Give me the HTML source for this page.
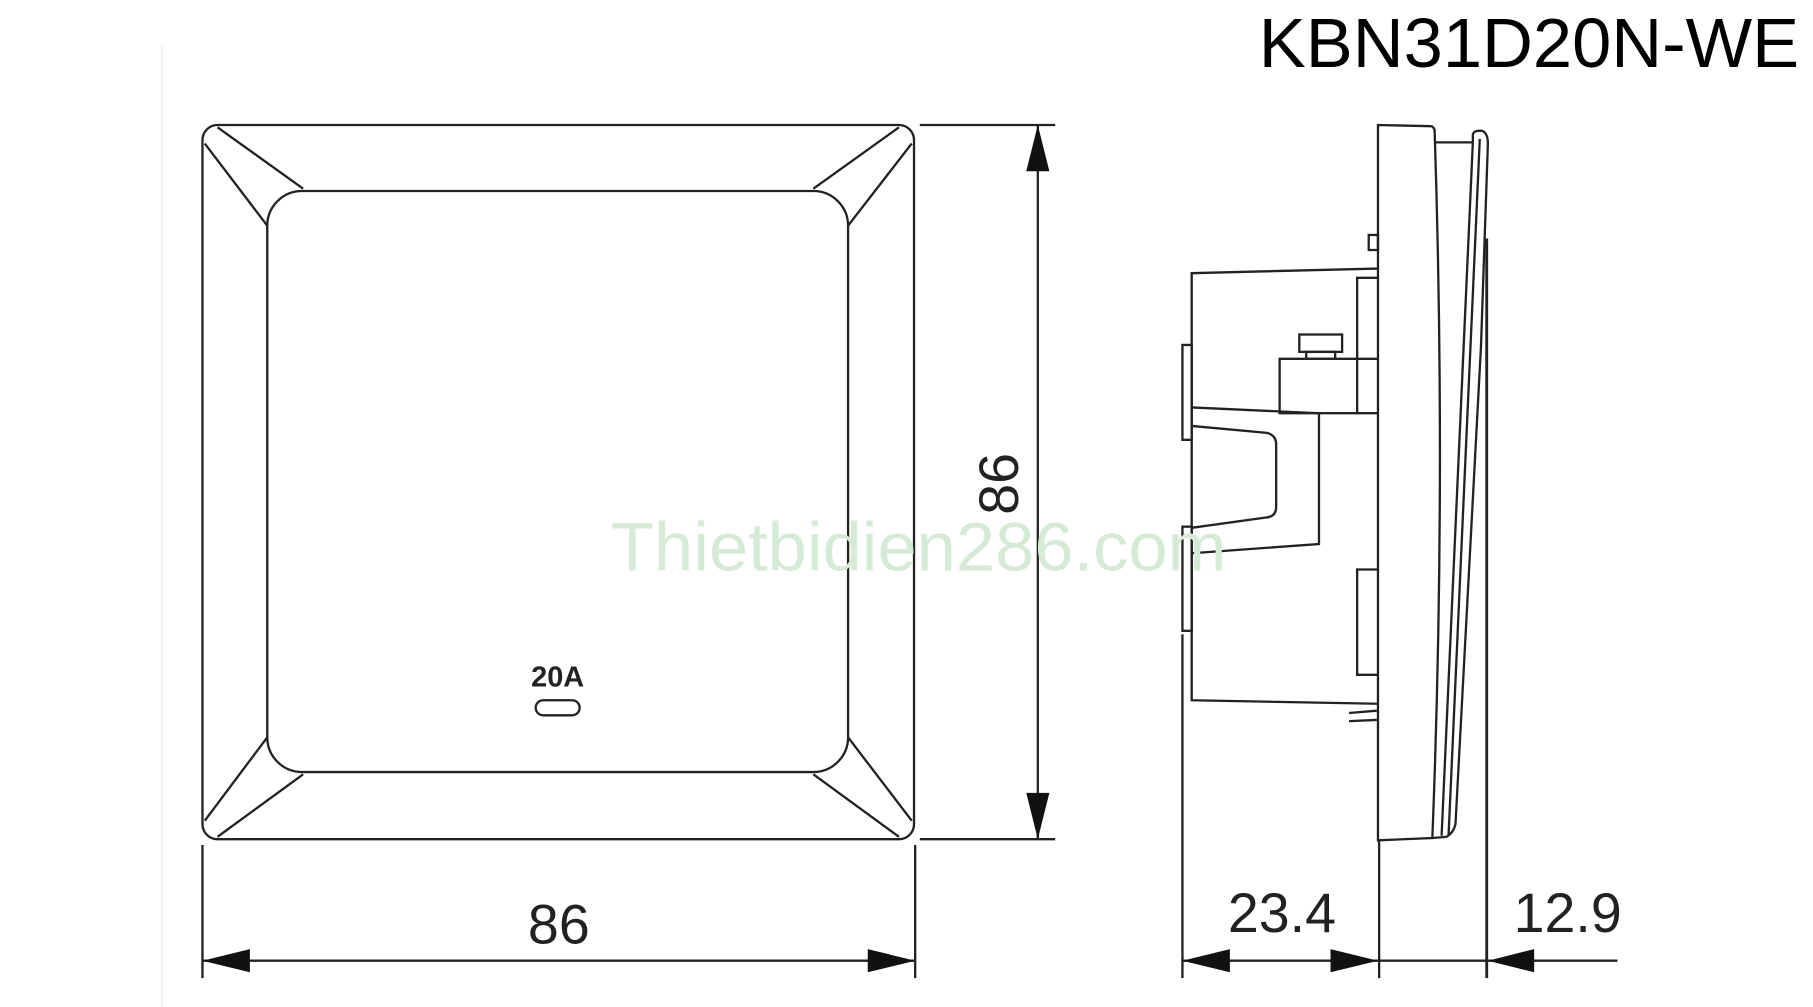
<!DOCTYPE html>
<html><head><meta charset="utf-8"><style>
html,body{margin:0;padding:0;background:#fff;}
svg{display:block;}
</style></head><body>
<svg width="1813" height="1007" viewBox="0 0 1567 870" preserveAspectRatio="none" xmlns="http://www.w3.org/2000/svg">
<rect width="1567" height="870" fill="#fff"/>
<line x1="140" y1="40" x2="140" y2="870" stroke="#f4f4f4" stroke-width="2"/>
<text x="1088" y="58" textLength="467" lengthAdjust="spacingAndGlyphs" font-family="Liberation Sans, sans-serif" font-size="60" fill="#000">KBN31D20N-WE</text>
<g fill="none" stroke="#222" stroke-width="2">
<rect x="175" y="108" width="615" height="617" rx="13"/>
<rect x="231" y="165" width="502" height="502" rx="30"/>
<line x1="188" y1="110" x2="262" y2="163"/>
<line x1="177" y1="124" x2="231" y2="195"/>
<line x1="777" y1="110" x2="703" y2="163"/>
<line x1="788" y1="124" x2="733" y2="195"/>
<line x1="188" y1="723" x2="262" y2="669"/>
<line x1="177" y1="709" x2="231" y2="637"/>
<line x1="777" y1="723" x2="703" y2="669"/>
<line x1="788" y1="709" x2="733" y2="637"/>
<rect x="463" y="605" width="38" height="13" rx="6.5"/>
<line x1="175" y1="730" x2="175" y2="845"/>
<line x1="791" y1="730" x2="791" y2="845"/>
<line x1="175" y1="830" x2="791" y2="830"/>
<line x1="795" y1="108" x2="912" y2="108"/>
<line x1="795" y1="725" x2="912" y2="725"/>
<line x1="897" y1="108" x2="897" y2="725"/>
<path d="M1191 727 L1191 108 L1237 109 Q1240 110 1240 114 Q1250 420 1238 724 L1191 726"/>
<line x1="1241" y1="123" x2="1273" y2="123"/>
<path d="M1273 123 L1273 116 Q1274 113 1278 113 L1281 113 Q1286 115 1286 124 L1280 300 L1258 712 Q1256 720 1250 723 L1238 724"/>
<path d="M1273 123 L1246 722"/>
<path d="M1279 120 L1252 722"/>
<line x1="1285" y1="206" x2="1285" y2="845" stroke-width="2.5"/>
<rect x="1183" y="203" width="8" height="13"/>
<path d="M1191 232 L1030 236 L1030 605 L1191 608"/>
<rect x="1022" y="298" width="8" height="82"/>
<rect x="1022" y="455" width="8" height="90"/>
<line x1="1022" y1="548" x2="1022" y2="845"/>
<path d="M1191 240 L1173 240 L1173 357"/>
<path d="M1191 357 L1106 357 L1106 310 L1191 310"/>
<rect x="1123" y="289" width="37" height="15"/>
<rect x="1129" y="304" width="25" height="6"/>
<path d="M1030 352 L1140 357 L1140 470 L1030 478"/>
<path d="M1030 368 L1095 374 Q1103 376 1103 384 L1103 438 Q1103 446 1095 447 L1030 456"/>
<path d="M1191 492 L1173 492 L1173 583 L1191 583"/>
<line x1="1166" y1="616" x2="1190" y2="614"/>
<line x1="1166" y1="623" x2="1190" y2="622"/>
<line x1="1192" y1="727" x2="1192" y2="845"/>
<line x1="1022" y1="830" x2="1398" y2="830"/>
</g>
<g fill="#111">
<polygon points="175,830 216,820 216,840"/>
<polygon points="791,830 750,820 750,840"/>
<polygon points="897,108 887,148 907,148"/>
<polygon points="897,725 887,685 907,685"/>
<polygon points="1022,830 1063,820 1063,840"/>
<polygon points="1191,830 1150,820 1150,840"/>
<polygon points="1286,830 1326,820 1326,840"/>
</g>
<text x="528" y="493" textLength="532" lengthAdjust="spacingAndGlyphs" font-family="Liberation Sans, sans-serif" font-size="59" fill="#d6ebd6">Thietbidien286.com</text>
<text x="482" y="593" text-anchor="middle" font-family="Liberation Sans, sans-serif" font-weight="bold" font-size="25" fill="#222">20A</text>
<text x="483" y="815" text-anchor="middle" font-family="Liberation Sans, sans-serif" font-size="48" fill="#222">86</text>
<text transform="translate(880,418) rotate(-90)" text-anchor="middle" font-family="Liberation Sans, sans-serif" font-size="48" fill="#222">86</text>
<text x="1108" y="805" text-anchor="middle" font-family="Liberation Sans, sans-serif" font-size="48" fill="#222">23.4</text>
<text x="1355" y="805" text-anchor="middle" font-family="Liberation Sans, sans-serif" font-size="48" fill="#222">12.9</text>
</svg>
</body></html>
